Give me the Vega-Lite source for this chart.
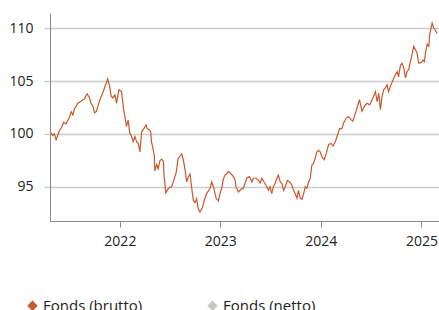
{
  "$schema": "https://vega.github.io/schema/vega-lite/v6.json",
  "width": 389,
  "height": 208,
  "autosize": {"type": "none"},
  "padding": {"left": 50, "top": 13, "right": 0, "bottom": 89},
  "background": "white",
  "config": {
    "view": {"stroke": null},
    "font": "Open Sans",
    "axis": {"labelFont": "Open Sans", "labelFontSize": 14, "labelColor": "#222222", "title": null},
    "legend": {"labelFont": "Open Sans"}
  },
  "data": {
    "values": [
      {"date": "2021-04-26", "value": 100.1, "series": "Fonds (brutto)"},
      {"date": "2021-05-02", "value": 99.85, "series": "Fonds (brutto)"},
      {"date": "2021-05-08", "value": 100.0, "series": "Fonds (brutto)"},
      {"date": "2021-05-14", "value": 99.45, "series": "Fonds (brutto)"},
      {"date": "2021-05-20", "value": 99.85, "series": "Fonds (brutto)"},
      {"date": "2021-05-26", "value": 100.3, "series": "Fonds (brutto)"},
      {"date": "2021-06-04", "value": 100.65, "series": "Fonds (brutto)"},
      {"date": "2021-06-11", "value": 101.1, "series": "Fonds (brutto)"},
      {"date": "2021-06-19", "value": 100.95, "series": "Fonds (brutto)"},
      {"date": "2021-06-26", "value": 101.3, "series": "Fonds (brutto)"},
      {"date": "2021-07-02", "value": 101.6, "series": "Fonds (brutto)"},
      {"date": "2021-07-08", "value": 102.1, "series": "Fonds (brutto)"},
      {"date": "2021-07-14", "value": 101.8, "series": "Fonds (brutto)"},
      {"date": "2021-07-20", "value": 102.4, "series": "Fonds (brutto)"},
      {"date": "2021-07-26", "value": 102.6, "series": "Fonds (brutto)"},
      {"date": "2021-08-01", "value": 102.9, "series": "Fonds (brutto)"},
      {"date": "2021-08-07", "value": 103.0, "series": "Fonds (brutto)"},
      {"date": "2021-08-13", "value": 103.1, "series": "Fonds (brutto)"},
      {"date": "2021-08-19", "value": 103.2, "series": "Fonds (brutto)"},
      {"date": "2021-08-25", "value": 103.3, "series": "Fonds (brutto)"},
      {"date": "2021-09-04", "value": 103.8, "series": "Fonds (brutto)"},
      {"date": "2021-09-13", "value": 103.4, "series": "Fonds (brutto)"},
      {"date": "2021-09-18", "value": 102.9, "series": "Fonds (brutto)"},
      {"date": "2021-09-25", "value": 102.6, "series": "Fonds (brutto)"},
      {"date": "2021-10-01", "value": 102.0, "series": "Fonds (brutto)"},
      {"date": "2021-10-07", "value": 102.1, "series": "Fonds (brutto)"},
      {"date": "2021-10-13", "value": 102.6, "series": "Fonds (brutto)"},
      {"date": "2021-10-19", "value": 103.1, "series": "Fonds (brutto)"},
      {"date": "2021-10-25", "value": 103.55, "series": "Fonds (brutto)"},
      {"date": "2021-10-31", "value": 103.9, "series": "Fonds (brutto)"},
      {"date": "2021-11-06", "value": 104.35, "series": "Fonds (brutto)"},
      {"date": "2021-11-12", "value": 104.8, "series": "Fonds (brutto)"},
      {"date": "2021-11-18", "value": 105.2, "series": "Fonds (brutto)"},
      {"date": "2021-11-24", "value": 104.6, "series": "Fonds (brutto)"},
      {"date": "2021-11-30", "value": 103.6, "series": "Fonds (brutto)"},
      {"date": "2021-12-07", "value": 103.4, "series": "Fonds (brutto)"},
      {"date": "2021-12-14", "value": 103.7, "series": "Fonds (brutto)"},
      {"date": "2021-12-20", "value": 102.9, "series": "Fonds (brutto)"},
      {"date": "2021-12-25", "value": 103.7, "series": "Fonds (brutto)"},
      {"date": "2021-12-29", "value": 104.2, "series": "Fonds (brutto)"},
      {"date": "2022-01-07", "value": 104.0, "series": "Fonds (brutto)"},
      {"date": "2022-01-14", "value": 102.4, "series": "Fonds (brutto)"},
      {"date": "2022-01-19", "value": 101.65, "series": "Fonds (brutto)"},
      {"date": "2022-01-25", "value": 100.7, "series": "Fonds (brutto)"},
      {"date": "2022-01-31", "value": 101.3, "series": "Fonds (brutto)"},
      {"date": "2022-02-06", "value": 100.05, "series": "Fonds (brutto)"},
      {"date": "2022-02-13", "value": 99.75, "series": "Fonds (brutto)"},
      {"date": "2022-02-18", "value": 99.25, "series": "Fonds (brutto)"},
      {"date": "2022-02-25", "value": 99.75, "series": "Fonds (brutto)"},
      {"date": "2022-03-03", "value": 99.25, "series": "Fonds (brutto)"},
      {"date": "2022-03-09", "value": 99.1, "series": "Fonds (brutto)"},
      {"date": "2022-03-15", "value": 98.3, "series": "Fonds (brutto)"},
      {"date": "2022-03-21", "value": 100.2, "series": "Fonds (brutto)"},
      {"date": "2022-03-27", "value": 100.4, "series": "Fonds (brutto)"},
      {"date": "2022-04-06", "value": 100.85, "series": "Fonds (brutto)"},
      {"date": "2022-04-10", "value": 100.5, "series": "Fonds (brutto)"},
      {"date": "2022-04-18", "value": 100.4, "series": "Fonds (brutto)"},
      {"date": "2022-04-23", "value": 100.2, "series": "Fonds (brutto)"},
      {"date": "2022-04-26", "value": 99.25, "series": "Fonds (brutto)"},
      {"date": "2022-05-02", "value": 98.5, "series": "Fonds (brutto)"},
      {"date": "2022-05-06", "value": 97.95, "series": "Fonds (brutto)"},
      {"date": "2022-05-08", "value": 96.5, "series": "Fonds (brutto)"},
      {"date": "2022-05-15", "value": 97.1, "series": "Fonds (brutto)"},
      {"date": "2022-05-20", "value": 96.7, "series": "Fonds (brutto)"},
      {"date": "2022-05-27", "value": 97.5, "series": "Fonds (brutto)"},
      {"date": "2022-06-02", "value": 97.6, "series": "Fonds (brutto)"},
      {"date": "2022-06-08", "value": 97.4, "series": "Fonds (brutto)"},
      {"date": "2022-06-11", "value": 95.95, "series": "Fonds (brutto)"},
      {"date": "2022-06-17", "value": 94.4, "series": "Fonds (brutto)"},
      {"date": "2022-06-22", "value": 94.65, "series": "Fonds (brutto)"},
      {"date": "2022-06-29", "value": 94.9, "series": "Fonds (brutto)"},
      {"date": "2022-07-08", "value": 95.0, "series": "Fonds (brutto)"},
      {"date": "2022-07-14", "value": 95.45, "series": "Fonds (brutto)"},
      {"date": "2022-07-24", "value": 96.25, "series": "Fonds (brutto)"},
      {"date": "2022-08-01", "value": 97.7, "series": "Fonds (brutto)"},
      {"date": "2022-08-08", "value": 97.9, "series": "Fonds (brutto)"},
      {"date": "2022-08-14", "value": 98.1, "series": "Fonds (brutto)"},
      {"date": "2022-08-20", "value": 97.5, "series": "Fonds (brutto)"},
      {"date": "2022-08-26", "value": 96.6, "series": "Fonds (brutto)"},
      {"date": "2022-09-01", "value": 95.45, "series": "Fonds (brutto)"},
      {"date": "2022-09-07", "value": 95.95, "series": "Fonds (brutto)"},
      {"date": "2022-09-13", "value": 96.2, "series": "Fonds (brutto)"},
      {"date": "2022-09-19", "value": 94.9, "series": "Fonds (brutto)"},
      {"date": "2022-09-25", "value": 93.7, "series": "Fonds (brutto)"},
      {"date": "2022-10-01", "value": 93.5, "series": "Fonds (brutto)"},
      {"date": "2022-10-07", "value": 93.85, "series": "Fonds (brutto)"},
      {"date": "2022-10-13", "value": 92.9, "series": "Fonds (brutto)"},
      {"date": "2022-10-19", "value": 92.6, "series": "Fonds (brutto)"},
      {"date": "2022-10-26", "value": 92.9, "series": "Fonds (brutto)"},
      {"date": "2022-10-31", "value": 93.3, "series": "Fonds (brutto)"},
      {"date": "2022-11-07", "value": 94.0, "series": "Fonds (brutto)"},
      {"date": "2022-11-13", "value": 94.4, "series": "Fonds (brutto)"},
      {"date": "2022-11-19", "value": 94.6, "series": "Fonds (brutto)"},
      {"date": "2022-11-25", "value": 94.85, "series": "Fonds (brutto)"},
      {"date": "2022-12-01", "value": 95.45, "series": "Fonds (brutto)"},
      {"date": "2022-12-07", "value": 95.0, "series": "Fonds (brutto)"},
      {"date": "2022-12-17", "value": 93.9, "series": "Fonds (brutto)"},
      {"date": "2022-12-25", "value": 93.65, "series": "Fonds (brutto)"},
      {"date": "2022-12-31", "value": 94.35, "series": "Fonds (brutto)"},
      {"date": "2023-01-06", "value": 94.85, "series": "Fonds (brutto)"},
      {"date": "2023-01-12", "value": 95.7, "series": "Fonds (brutto)"},
      {"date": "2023-01-18", "value": 96.1, "series": "Fonds (brutto)"},
      {"date": "2023-01-25", "value": 96.25, "series": "Fonds (brutto)"},
      {"date": "2023-01-30", "value": 96.45, "series": "Fonds (brutto)"},
      {"date": "2023-02-08", "value": 96.25, "series": "Fonds (brutto)"},
      {"date": "2023-02-18", "value": 95.95, "series": "Fonds (brutto)"},
      {"date": "2023-02-24", "value": 95.6, "series": "Fonds (brutto)"},
      {"date": "2023-02-27", "value": 95.0, "series": "Fonds (brutto)"},
      {"date": "2023-03-08", "value": 94.5, "series": "Fonds (brutto)"},
      {"date": "2023-03-17", "value": 94.75, "series": "Fonds (brutto)"},
      {"date": "2023-03-26", "value": 94.85, "series": "Fonds (brutto)"},
      {"date": "2023-04-07", "value": 95.8, "series": "Fonds (brutto)"},
      {"date": "2023-04-17", "value": 95.95, "series": "Fonds (brutto)"},
      {"date": "2023-04-26", "value": 95.45, "series": "Fonds (brutto)"},
      {"date": "2023-05-01", "value": 95.8, "series": "Fonds (brutto)"},
      {"date": "2023-05-11", "value": 95.8, "series": "Fonds (brutto)"},
      {"date": "2023-05-20", "value": 95.6, "series": "Fonds (brutto)"},
      {"date": "2023-05-26", "value": 95.35, "series": "Fonds (brutto)"},
      {"date": "2023-06-01", "value": 95.8, "series": "Fonds (brutto)"},
      {"date": "2023-06-09", "value": 95.45, "series": "Fonds (brutto)"},
      {"date": "2023-06-19", "value": 95.0, "series": "Fonds (brutto)"},
      {"date": "2023-06-25", "value": 94.65, "series": "Fonds (brutto)"},
      {"date": "2023-07-01", "value": 95.0, "series": "Fonds (brutto)"},
      {"date": "2023-07-07", "value": 94.35, "series": "Fonds (brutto)"},
      {"date": "2023-07-13", "value": 95.0, "series": "Fonds (brutto)"},
      {"date": "2023-07-19", "value": 95.3, "series": "Fonds (brutto)"},
      {"date": "2023-07-26", "value": 95.8, "series": "Fonds (brutto)"},
      {"date": "2023-07-31", "value": 96.1, "series": "Fonds (brutto)"},
      {"date": "2023-08-07", "value": 95.45, "series": "Fonds (brutto)"},
      {"date": "2023-08-13", "value": 95.3, "series": "Fonds (brutto)"},
      {"date": "2023-08-19", "value": 94.65, "series": "Fonds (brutto)"},
      {"date": "2023-08-25", "value": 95.0, "series": "Fonds (brutto)"},
      {"date": "2023-09-02", "value": 95.6, "series": "Fonds (brutto)"},
      {"date": "2023-09-10", "value": 95.45, "series": "Fonds (brutto)"},
      {"date": "2023-09-18", "value": 95.15, "series": "Fonds (brutto)"},
      {"date": "2023-09-24", "value": 94.65, "series": "Fonds (brutto)"},
      {"date": "2023-09-30", "value": 94.35, "series": "Fonds (brutto)"},
      {"date": "2023-10-07", "value": 93.9, "series": "Fonds (brutto)"},
      {"date": "2023-10-12", "value": 94.65, "series": "Fonds (brutto)"},
      {"date": "2023-10-19", "value": 93.9, "series": "Fonds (brutto)"},
      {"date": "2023-10-25", "value": 93.8, "series": "Fonds (brutto)"},
      {"date": "2023-10-31", "value": 94.35, "series": "Fonds (brutto)"},
      {"date": "2023-11-06", "value": 95.0, "series": "Fonds (brutto)"},
      {"date": "2023-11-12", "value": 94.85, "series": "Fonds (brutto)"},
      {"date": "2023-11-18", "value": 95.45, "series": "Fonds (brutto)"},
      {"date": "2023-11-24", "value": 95.8, "series": "Fonds (brutto)"},
      {"date": "2023-11-30", "value": 97.05, "series": "Fonds (brutto)"},
      {"date": "2023-12-06", "value": 97.2, "series": "Fonds (brutto)"},
      {"date": "2023-12-12", "value": 97.7, "series": "Fonds (brutto)"},
      {"date": "2023-12-18", "value": 98.3, "series": "Fonds (brutto)"},
      {"date": "2023-12-24", "value": 98.45, "series": "Fonds (brutto)"},
      {"date": "2023-12-30", "value": 98.3, "series": "Fonds (brutto)"},
      {"date": "2024-01-06", "value": 97.8, "series": "Fonds (brutto)"},
      {"date": "2024-01-14", "value": 97.55, "series": "Fonds (brutto)"},
      {"date": "2024-01-21", "value": 98.15, "series": "Fonds (brutto)"},
      {"date": "2024-01-30", "value": 99.0, "series": "Fonds (brutto)"},
      {"date": "2024-02-07", "value": 99.1, "series": "Fonds (brutto)"},
      {"date": "2024-02-15", "value": 98.85, "series": "Fonds (brutto)"},
      {"date": "2024-02-23", "value": 99.25, "series": "Fonds (brutto)"},
      {"date": "2024-03-02", "value": 99.9, "series": "Fonds (brutto)"},
      {"date": "2024-03-10", "value": 100.5, "series": "Fonds (brutto)"},
      {"date": "2024-03-18", "value": 100.5, "series": "Fonds (brutto)"},
      {"date": "2024-03-24", "value": 101.0, "series": "Fonds (brutto)"},
      {"date": "2024-04-03", "value": 101.5, "series": "Fonds (brutto)"},
      {"date": "2024-04-11", "value": 101.65, "series": "Fonds (brutto)"},
      {"date": "2024-04-20", "value": 101.35, "series": "Fonds (brutto)"},
      {"date": "2024-04-27", "value": 101.2, "series": "Fonds (brutto)"},
      {"date": "2024-05-06", "value": 101.95, "series": "Fonds (brutto)"},
      {"date": "2024-05-12", "value": 102.45, "series": "Fonds (brutto)"},
      {"date": "2024-05-21", "value": 103.25, "series": "Fonds (brutto)"},
      {"date": "2024-05-30", "value": 102.15, "series": "Fonds (brutto)"},
      {"date": "2024-06-08", "value": 102.6, "series": "Fonds (brutto)"},
      {"date": "2024-06-17", "value": 102.9, "series": "Fonds (brutto)"},
      {"date": "2024-06-27", "value": 102.75, "series": "Fonds (brutto)"},
      {"date": "2024-07-06", "value": 103.25, "series": "Fonds (brutto)"},
      {"date": "2024-07-11", "value": 103.55, "series": "Fonds (brutto)"},
      {"date": "2024-07-18", "value": 104.0, "series": "Fonds (brutto)"},
      {"date": "2024-07-24", "value": 103.05, "series": "Fonds (brutto)"},
      {"date": "2024-07-30", "value": 103.85, "series": "Fonds (brutto)"},
      {"date": "2024-08-05", "value": 102.3, "series": "Fonds (brutto)"},
      {"date": "2024-08-11", "value": 103.55, "series": "Fonds (brutto)"},
      {"date": "2024-08-17", "value": 104.2, "series": "Fonds (brutto)"},
      {"date": "2024-08-23", "value": 104.35, "series": "Fonds (brutto)"},
      {"date": "2024-08-29", "value": 104.65, "series": "Fonds (brutto)"},
      {"date": "2024-09-04", "value": 104.0, "series": "Fonds (brutto)"},
      {"date": "2024-09-10", "value": 104.5, "series": "Fonds (brutto)"},
      {"date": "2024-09-20", "value": 105.1, "series": "Fonds (brutto)"},
      {"date": "2024-09-28", "value": 105.6, "series": "Fonds (brutto)"},
      {"date": "2024-10-05", "value": 105.9, "series": "Fonds (brutto)"},
      {"date": "2024-10-10", "value": 105.4, "series": "Fonds (brutto)"},
      {"date": "2024-10-17", "value": 106.5, "series": "Fonds (brutto)"},
      {"date": "2024-10-23", "value": 106.7, "series": "Fonds (brutto)"},
      {"date": "2024-10-29", "value": 106.25, "series": "Fonds (brutto)"},
      {"date": "2024-11-04", "value": 105.3, "series": "Fonds (brutto)"},
      {"date": "2024-11-10", "value": 105.9, "series": "Fonds (brutto)"},
      {"date": "2024-11-16", "value": 106.1, "series": "Fonds (brutto)"},
      {"date": "2024-11-22", "value": 106.85, "series": "Fonds (brutto)"},
      {"date": "2024-11-28", "value": 107.5, "series": "Fonds (brutto)"},
      {"date": "2024-12-04", "value": 108.3, "series": "Fonds (brutto)"},
      {"date": "2024-12-10", "value": 108.0, "series": "Fonds (brutto)"},
      {"date": "2024-12-16", "value": 107.7, "series": "Fonds (brutto)"},
      {"date": "2024-12-22", "value": 106.7, "series": "Fonds (brutto)"},
      {"date": "2024-12-31", "value": 106.75, "series": "Fonds (brutto)"},
      {"date": "2025-01-07", "value": 107.0, "series": "Fonds (brutto)"},
      {"date": "2025-01-12", "value": 106.85, "series": "Fonds (brutto)"},
      {"date": "2025-01-16", "value": 107.7, "series": "Fonds (brutto)"},
      {"date": "2025-01-22", "value": 108.5, "series": "Fonds (brutto)"},
      {"date": "2025-01-28", "value": 108.3, "series": "Fonds (brutto)"},
      {"date": "2025-01-31", "value": 109.4, "series": "Fonds (brutto)"},
      {"date": "2025-02-05", "value": 110.0, "series": "Fonds (brutto)"},
      {"date": "2025-02-09", "value": 110.5, "series": "Fonds (brutto)"},
      {"date": "2025-02-15", "value": 110.0, "series": "Fonds (brutto)"},
      {"date": "2025-02-21", "value": 109.8, "series": "Fonds (brutto)"},
      {"date": "2025-02-27", "value": 109.5, "series": "Fonds (brutto)"}
    ]
  },
  "mark": {"type": "line", "strokeWidth": 1.2, "clip": true},
  "encoding": {
    "x": {
      "field": "date",
      "type": "temporal",
      "scale": {"domain": ["2021-04-22", "2025-03-06"]},
      "axis": {
        "values": [{"year": 2022}, {"year": 2023}, {"year": 2024}, {"year": 2025}],
        "format": "%Y",
        "grid": false,
        "domainColor": "#8a8a8a",
        "tickColor": "#8a8a8a",
        "tickSize": 6,
        "labelPadding": 7,
        "labelFlush": false
      }
    },
    "y": {
      "field": "value",
      "type": "quantitative",
      "scale": {"domain": [91.75, 111.45], "nice": false, "zero": false},
      "axis": {
        "values": [95, 100, 105, 110],
        "grid": true,
        "gridColor": "#cccccc",
        "gridWidth": 1.3,
        "domainColor": "#8a8a8a",
        "tickColor": "#cccccc",
        "tickWidth": 1.3,
        "tickSize": 6,
        "labelPadding": 11
      }
    },
    "color": {
      "field": "series",
      "type": "nominal",
      "scale": {"domain": ["Fonds (brutto)", "Fonds (netto)"], "range": ["#c9582b", "#c8c8c6"]},
      "legend": {
        "title": null,
        "orient": "none",
        "legendX": -25,
        "legendY": 285,
        "direction": "horizontal",
        "symbolType": "diamond",
        "symbolSize": 110,
        "symbolStrokeWidth": 0,
        "labelFontSize": 15,
        "labelColor": "#222222",
        "labelOffset": 3,
        "columnPadding": 62,
        "padding": 0,
        "encode": {
          "symbols": {
            "update": {
              "fill": {"scale": "color", "field": "value"},
              "fillOpacity": {"value": 1},
              "strokeWidth": {"value": 0}
            }
          }
        }
      }
    }
  }
}
